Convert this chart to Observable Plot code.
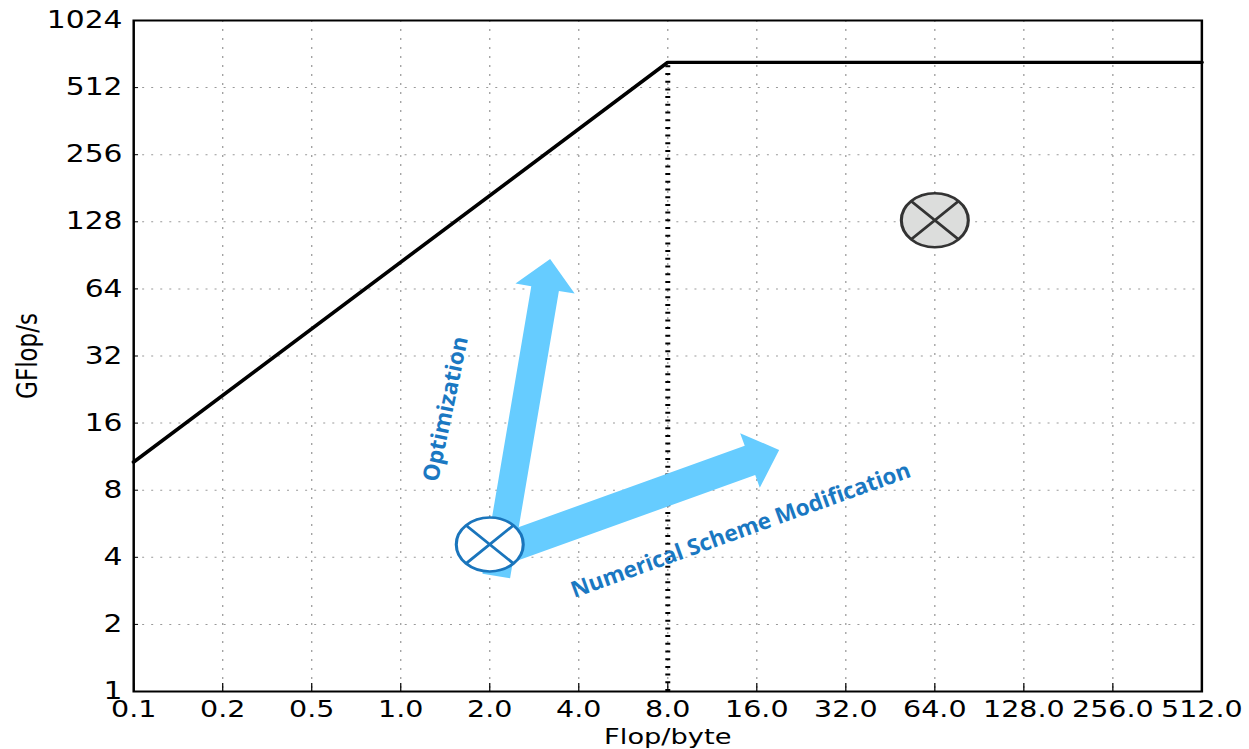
<!DOCTYPE html>
<html><head><meta charset="utf-8">
<script src="https://cdn.jsdelivr.net/npm/d3@7"></script>
<script src="https://cdn.jsdelivr.net/npm/@observablehq/plot@0.6"></script>
<style>html,body{margin:0;padding:0;background:#fff;overflow:hidden}</style>
</head><body><div id="chart"></div>
<script>
// ---- data ----
const xTickLabels = ["0.1","0.2","0.5","1.0","2.0","4.0","8.0","16.0","32.0","64.0","128.0","256.0","512.0"];
const yTicks = [1, 2, 4, 8, 16, 32, 64, 128, 256, 512, 1024];
// roofline (x as tick index, y in GFlop/s)
const rooflineX = [0, 6, 12];
const rooflineY = [10.7, 665, 665];
const ridgeX = 6;
const ridgeY = 665;
// kernels (crossed circles)
const kernelNames = ["current", "target"];
const kernelX = [4, 9];
const kernelY = [4.57, 130];
// arrows: start -> tip
const arrowNames = ["Optimization", "Numerical Scheme Modification"];
const arrowX1 = [4.08, 4.067];
const arrowY1 = [3.28, 4.20];
const arrowX2 = [4.685, 7.258];
const arrowY2 = [86.7, 12.06];
// annotation labels (angles as seen on screen)
const labelText = ["Optimization", "Numerical Scheme Modification"];
const labelX = [3.506, 6.82];
const labelY = [18.5, 5.28];
const labelAngle = [-78.2, -19.8];

// ---- drawing ----
const S = 1.24;                     // horizontal stretch of the whole figure
const innerW = Math.round(1249 / S);
const shaftW = [28, 31], headW = [60, 58], headL = [30, 31];

function arrowsMark(index, scales) {
  const g = d3.create("svg:g");
  arrowNames.forEach((name, i) => {
    const x0 = scales.x(arrowX1[i]) * S, y0 = scales.y(arrowY1[i]);
    const x1 = scales.x(arrowX2[i]) * S, y1 = scales.y(arrowY2[i]);
    const dx = x1 - x0, dy = y1 - y0, L = Math.hypot(dx, dy);
    const ux = dx / L, uy = dy / L, nx = -uy, ny = ux;
    const w = shaftW[i] / 2, hw = headW[i] / 2, hl = headL[i];
    const bx = x1 - hl * ux, by = y1 - hl * uy;
    const pts = [[x0 + w*nx, y0 + w*ny], [bx + w*nx, by + w*ny], [bx + hw*nx, by + hw*ny], [x1, y1],
                 [bx - hw*nx, by - hw*ny], [bx - w*nx, by - w*ny], [x0 - w*nx, y0 - w*ny]];
    g.append("path")
      .attr("d", "M" + pts.map(p => (p[0] / S).toFixed(2) + "," + p[1].toFixed(2)).join("L") + "Z")
      .attr("fill", "#66ccff");
  });
  return g.node();
}

const crossedCircle = {
  draw(ctx, size) {
    const r = Math.sqrt(size / Math.PI), a = r * Math.SQRT1_2;
    ctx.moveTo(r, 0); ctx.arc(0, 0, r, 0, 2 * Math.PI);
    ctx.moveTo(-a, -a); ctx.lineTo(a, a);
    ctx.moveTo(-a, a); ctx.lineTo(a, -a);
  }
};

const plot = Plot.plot({
  width: innerW, height: 749,
  marginLeft: 107.3, marginRight: innerW - 968.5, marginTop: 20, marginBottom: 58,
  style: {fontFamily: "DejaVu Sans", fontSize: "23px", color: "#000", background: "#fff"},
  x: {type: "linear", domain: [0, 12], label: null},
  y: {type: "log", base: 2, domain: [1, 1024], label: null},
  marks: [
    Plot.gridX(d3.range(1, 12), {stroke: "#999", strokeOpacity: 1, strokeWidth: 1, strokeDasharray: "2,7"}),
    Plot.gridY(yTicks.slice(1, -1), {stroke: "#999", strokeOpacity: 1, strokeWidth: 1, strokeDasharray: "1.6,5.7"}),
    Plot.line(rooflineX.map((x, i) => [x, rooflineY[i]]), {x: d => d[0], y: d => d[1], stroke: "#000", strokeWidth: 3.3}),
    Plot.ruleX([ridgeX], {y1: 1, y2: ridgeY, stroke: "#000", strokeWidth: 4, strokeDasharray: "2,5.7"}),
    arrowsMark,
    Plot.dot([0], {x: i => kernelX[i], y: i => kernelY[i], r: 27, symbol: crossedCircle, fill: "#fff", stroke: "#1a75bc", strokeWidth: 2.5}),
    Plot.dot([1], {x: i => kernelX[i], y: i => kernelY[i], r: 27, symbol: crossedCircle, fill: "#dcdddc", stroke: "#333", strokeWidth: 2.5}),
    Plot.text(labelText, {x: (d, i) => labelX[i], y: (d, i) => labelY[i], rotate: (d, i) => labelAngle[i],
      fontSize: 22.5, fontWeight: "bold", fontFamily: "Open Sans", fill: "#1a78c2", ariaLabel: "annotation"}),
    Plot.frame({stroke: "#000", strokeWidth: 2}),
    Plot.axisX(d3.range(13), {tickFormat: i => xTickLabels[i], tickSize: -8, tickPadding: 17, fontSize: 23, label: null}),
    Plot.axisY(yTicks, {tickFormat: d => String(d), tickSize: -4, tickPadding: 13, fontSize: 24, label: null}),
    Plot.text(["Flop/byte"], {frameAnchor: "bottom", dy: 37, lineAnchor: "top", textAnchor: "middle", fontSize: 22}),
    Plot.text(["GFlop/s"], {frameAnchor: "left", dx: -85.5, rotate: -90, textAnchor: "middle", fontSize: 23})
  ]
});
// keep the rotated annotation glyphs unsheared after the horizontal stretch
d3.select(plot).selectAll("text").each(function() {
  if (labelText.includes(this.textContent)) {
    const t = this.getAttribute("transform") || "";
    this.setAttribute("transform", t.replace("rotate(", `scale(${1 / S},1) rotate(`));
  }
});
plot.setAttribute("preserveAspectRatio", "none");
plot.setAttribute("width", 1249);
plot.setAttribute("height", 749);
plot.style.width = "1249px";
plot.style.height = "749px";
plot.style.maxWidth = "none";
document.getElementById("chart").appendChild(plot);
</script>
</body></html>
